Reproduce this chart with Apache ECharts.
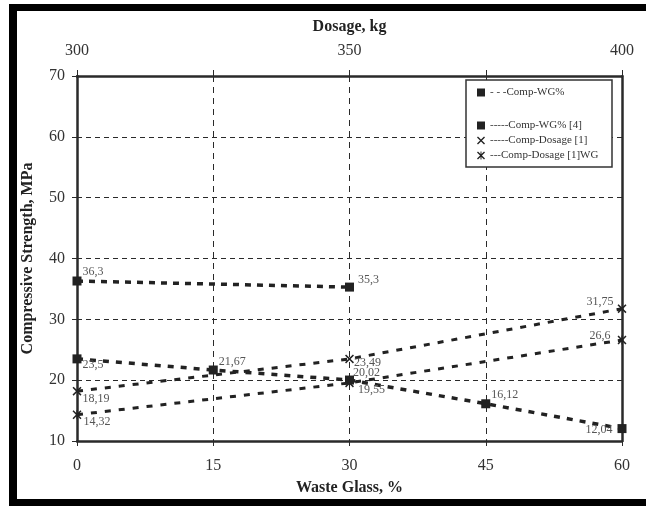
<!DOCTYPE html>
<html>
<head>
<meta charset="utf-8">
<script src="https://cdn.jsdelivr.net/npm/echarts@6/dist/echarts.min.js"></script>
<style>
html,body{margin:0;padding:0;background:#fff;}
#chart{width:646px;height:506px;}
</style>
</head>
<body>
<div id="chart"></div>
<script>
// ---- data ----
var wasteGlass = [0, 15, 30, 45, 60];
var wasteGlassWG = [0, 30];
var dosage = [300, 350, 400];
var compWG = [36.3, 35.3];
var compWG4 = [23.5, 21.67, 20.02, 16.12, 12.04];
var compDosage1 = [18.19, 23.49, 31.75];
var compDosage1WG = [14.32, 19.55, 26.6];
var yTicks = [10, 20, 30, 40, 50, 60, 70];
var xTicksBottom = [0, 15, 30, 45, 60];
var xTicksTop = [300, 350, 400];

var FONT = 'Liberation Serif';
var DARK = '#2a2a2a';

function fmt(v) { return String(v).replace('.', ','); }

function pts(xs, ys, labelCfg) {
  return ys.map(function (y, i) {
    var item = { value: [xs[i], y] };
    if (labelCfg && labelCfg[i]) item.label = labelCfg[i];
    return item;
  });
}

var xPath = 'path://M0,1.2L1.2,0L5,3.8L8.8,0L10,1.2L6.2,5L10,8.8L8.8,10L5,6.2L1.2,10L0,8.8L3.8,5Z';
var starPath = 'path://M0,1.2L1.2,0L5,3.8L8.8,0L10,1.2L6.2,5L10,8.8L8.8,10L5,6.2L1.2,10L0,8.8L3.8,5Z M4.4,0L5.6,0L5.6,10L4.4,10Z';

var baseLabel = {
  show: true,
  fontFamily: FONT,
  fontSize: 12,
  color: '#555',
  formatter: function (p) { return fmt(p.value[1]); }
};

var chart = echarts.init(document.getElementById('chart'), null, { renderer: 'canvas' });

var legendFmt = {
  'Comp-WG%': '- - -Comp-WG%',
  'Comp-WG% [4]': '-----Comp-WG% [4]',
  'Comp-Dosage [1]': '-----Comp-Dosage [1]',
  'Comp-Dosage [1]WG': '---Comp-Dosage [1]WG'
};

var option = {
  animation: false,
  backgroundColor: '#fff',
  textStyle: { fontFamily: FONT },
  grid: { left: 77, right: 24, top: 76, bottom: 65 },
  graphic: [
    { type: 'rect', shape: { x: 9, y: 4, width: 8, height: 502 }, style: { fill: '#000' }, z: 100 },
    { type: 'rect', shape: { x: 9, y: 4, width: 637, height: 7 }, style: { fill: '#000' }, z: 100 },
    { type: 'rect', shape: { x: 9, y: 499, width: 637, height: 7 }, style: { fill: '#000' }, z: 100 },
    { type: 'rect', shape: { x: 466, y: 80, width: 146, height: 87 }, style: { fill: '#fff', stroke: '#333', lineWidth: 1.5 }, z: 3 }
  ],
  legend: [
    {
      data: [{ name: 'Comp-WG%', icon: 'rect' }],
      left: 472, top: 82,
      orient: 'vertical',
      itemWidth: 8, itemHeight: 8, itemGap: 4, itemTextGap: 2,
      selectedMode: false,
      textStyle: { fontFamily: FONT, fontSize: 11, color: '#333' },
      formatter: function (n) { return legendFmt[n]; },
      z: 5
    },
    {
      data: [
        { name: 'Comp-WG% [4]', icon: 'rect' },
        { name: 'Comp-Dosage [1]', icon: xPath },
        { name: 'Comp-Dosage [1]WG', icon: starPath }
      ],
      left: 472, top: 115,
      orient: 'vertical',
      itemWidth: 8, itemHeight: 8, itemGap: 4, itemTextGap: 2,
      selectedMode: false,
      textStyle: { fontFamily: FONT, fontSize: 11, color: '#333' },
      formatter: function (n) { return legendFmt[n]; },
      z: 5
    }
  ],
  xAxis: [
    {
      type: 'value', position: 'bottom', min: 0, max: 60, interval: 15,
      name: 'Waste Glass, %', nameLocation: 'middle', nameGap: 39,
      nameTextStyle: { fontFamily: FONT, fontSize: 16, fontWeight: 'bold', color: '#222' },
      axisLine: { show: true, onZero: false, lineStyle: { color: DARK, width: 2.5 } },
      axisTick: { show: true, length: 5, lineStyle: { color: DARK, width: 1 } },
      axisLabel: { margin: 17, fontFamily: FONT, fontSize: 16, color: '#333',
        formatter: function (v) { return xTicksBottom.indexOf(v) >= 0 ? String(v) : ''; } },
      splitLine: { show: true, lineStyle: { color: DARK, width: 1, type: [6, 5] } }
    },
    {
      type: 'value', position: 'top', min: 300, max: 400, interval: 25,
      name: 'Dosage, kg', nameLocation: 'middle', nameGap: 41,
      nameTextStyle: { fontFamily: FONT, fontSize: 16, fontWeight: 'bold', color: '#222' },
      axisLine: { show: true, onZero: false, lineStyle: { color: DARK, width: 2.5 } },
      axisTick: { show: true, length: 6, lineStyle: { color: DARK, width: 1 } },
      axisLabel: { margin: 17, fontFamily: FONT, fontSize: 16, color: '#333',
        formatter: function (v) { return xTicksTop.indexOf(v) >= 0 ? String(v) : ''; } },
      splitLine: { show: false }
    }
  ],
  yAxis: [
    {
      type: 'value', position: 'left', min: 10, max: 70, interval: 10,
      name: 'Compressive Strength, MPa', nameLocation: 'middle', nameGap: 41,
      nameTextStyle: { fontFamily: FONT, fontSize: 16, fontWeight: 'bold', color: '#222' },
      axisLine: { show: true, onZero: false, lineStyle: { color: DARK, width: 2.5 } },
      axisTick: { show: true, length: 5, lineStyle: { color: DARK, width: 1 } },
      axisLabel: { margin: 12, fontFamily: FONT, fontSize: 16, color: '#333',
        formatter: function (v) { return yTicks.indexOf(v) >= 0 ? String(v) : ''; } },
      splitLine: { show: true, lineStyle: { color: DARK, width: 1, type: [5, 4] } }
    },
    {
      type: 'value', position: 'right', min: 10, max: 70, interval: 10,
      axisLine: { show: true, onZero: false, lineStyle: { color: DARK, width: 2.5 } },
      axisTick: { show: false }, axisLabel: { show: false }, splitLine: { show: false }
    }
  ],
  series: [
    {
      name: 'Comp-WG%', type: 'line', xAxisIndex: 0, yAxisIndex: 0,
      symbol: 'rect', symbolSize: 9,
      itemStyle: { color: '#222' },
      lineStyle: { color: '#222', width: 3.5, type: [6, 6] },
      label: baseLabel,
      data: pts(wasteGlassWG, compWG, [
        { position: 'right', distance: 1, offset: [0, -9] },
        { position: 'right', distance: 1, offset: [3, -7] }
      ]),
      z: 4
    },
    {
      name: 'Comp-WG% [4]', type: 'line', xAxisIndex: 0, yAxisIndex: 0,
      symbol: 'rect', symbolSize: 9,
      itemStyle: { color: '#222' },
      lineStyle: { color: '#222', width: 3.5, type: [6, 7] },
      label: baseLabel,
      data: pts(wasteGlass, compWG4, [
        { position: 'right', distance: 1, offset: [0, 6] },
        { position: 'right', distance: 1, offset: [0, -8] },
        { position: 'right', distance: 1, offset: [-2, -7] },
        { position: 'right', distance: 1, offset: [0, -9] },
        { position: 'left', distance: 1, offset: [-4, 1] }
      ]),
      z: 4
    },
    {
      name: 'Comp-Dosage [1]', type: 'line', xAxisIndex: 1, yAxisIndex: 0,
      symbol: xPath, symbolSize: 9,
      itemStyle: { color: '#222' },
      lineStyle: { color: '#222', width: 3, type: [6, 8] },
      label: baseLabel,
      data: pts(dosage, compDosage1, [
        { position: 'right', distance: 1, offset: [0, 8] },
        { position: 'right', distance: 1, offset: [-1, 4] },
        { position: 'left', distance: 1, offset: [-3, -7] }
      ]),
      z: 5
    },
    {
      name: 'Comp-Dosage [1]WG', type: 'line', xAxisIndex: 1, yAxisIndex: 0,
      symbol: starPath, symbolSize: 9,
      itemStyle: { color: '#222' },
      lineStyle: { color: '#222', width: 3, type: [6, 8] },
      label: baseLabel,
      data: pts(dosage, compDosage1WG, [
        { position: 'right', distance: 1, offset: [1, 7] },
        { position: 'right', distance: 1, offset: [3, 7] },
        { position: 'left', distance: 1, offset: [-6, -4] }
      ]),
      z: 5
    }
  ]
};

chart.setOption(option);
</script>
</body>
</html>
